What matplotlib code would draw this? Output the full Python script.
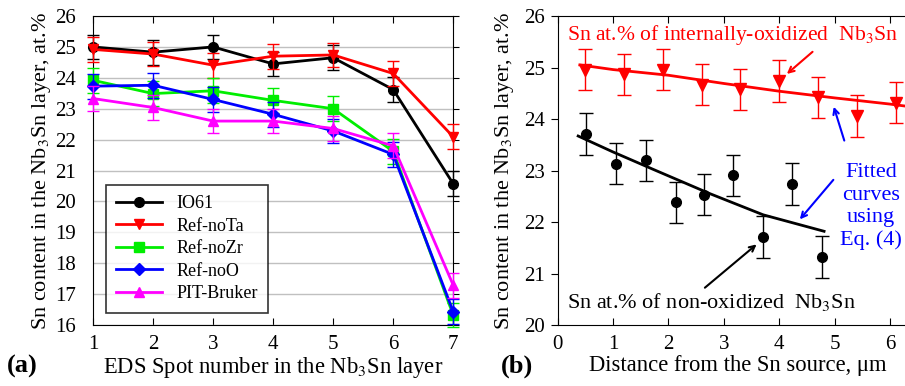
import matplotlib
matplotlib.use("Agg")
import matplotlib.pyplot as plt
import numpy as np

plt.rcParams['font.family'] = ['Liberation Serif', 'DejaVu Serif']
plt.rcParams['mathtext.fontset'] = 'stix'

# panel (a): Sn content vs EDS spot number
spots = [1, 2, 3, 4, 5, 6, 7]
io61 = [25.0, 24.83, 25.0, 24.45, 24.65, 23.62, 20.57]
ref_nota = [24.92, 24.77, 24.41, 24.70, 24.74, 24.14, 22.09]
ref_nozr = [23.92, 23.49, 23.58, 23.27, 23.0, 21.62, 16.32]
ref_noo = [23.73, 23.76, 23.30, 22.82, 22.28, 21.52, 16.43]
pit_bruker = [23.33, 23.04, 22.60, 22.60, 22.36, 21.80, 17.29]
err_a = 0.4

series_names = ['IO61', 'Ref-noTa', 'Ref-noZr', 'Ref-noO', 'PIT-Bruker']
series_colors = ['black', 'red', '#00ee00', 'blue', 'magenta']
series_markers = ['o', 'v', 's', 'D', '^']

# panel (b): Sn content vs distance from Sn source
dist_ox = [0.50, 1.20, 1.90, 2.60, 3.29, 4.00, 4.70, 5.41, 6.11]
sn_ox = [24.96, 24.87, 24.96, 24.67, 24.58, 24.74, 24.42, 24.06, 24.32]
dist_nonox = [0.52, 1.06, 1.59, 2.13, 2.65, 3.17, 3.71, 4.24, 4.78]
sn_nonox = [23.71, 23.13, 23.20, 22.38, 22.53, 22.91, 21.71, 22.74, 21.32]
err_b = 0.4

# fitted curves
fit_ox_x = [0.4, 1.0, 2.0, 3.0, 4.0, 5.0, 6.0, 6.5]
fit_ox_y = [25.05, 24.96, 24.85, 24.69, 24.54, 24.41, 24.29, 24.22]
fit_nonox_x = [0.37, 1.0, 1.73, 2.75, 3.71, 4.81]
fit_nonox_y = [23.67, 23.36, 23.02, 22.55, 22.14, 21.82]

fig = plt.figure(figsize=(9.05, 3.86), dpi=100)
ax1 = fig.add_axes([0.1028, 0.158, 0.398, 0.8005])
ax2 = fig.add_axes([0.6162, 0.158, 0.3978, 0.8005])

all_series = [io61, ref_nota, ref_nozr, ref_noo, pit_bruker]
for vals, name, col, mk in zip(all_series, series_names, series_colors, series_markers):
    ms = 6 if mk == 'D' else 7
    ax1.errorbar(spots, vals, yerr=err_a, fmt='none', ecolor=col,
                 elinewidth=1, capsize=4, capthick=1, clip_on=False, zorder=3)
    ax1.plot(spots, vals, color=col, marker=mk, ms=ms, lw=2,
             label=name, clip_on=False, zorder=3)

ax1.set_xlim(1, 7)
ax1.set_ylim(16, 26)
ax1.set_xticks(spots)
ax1.set_yticks(range(16, 27))
ax1.yaxis.grid(True, color='#c0c0c0', lw=1)
ax1.set_axisbelow(True)
ax1.tick_params(axis='x', which='both', direction='in', top=True, length=5,
                pad=7, labelsize=15)
ax1.tick_params(axis='y', which='both', direction='out', left=False,
                right=True, length=4, pad=8, labelsize=15)
ax1.set_xlabel('EDS Spot number in the Nb$_3$Sn layer', fontsize=16.3, labelpad=1)
ax1.set_ylabel('Sn content in the Nb$_3$Sn layer, at.%', fontsize=16, labelpad=2)
leg = ax1.legend(loc='lower left', bbox_to_anchor=(0.01, 0.01), fontsize=13,
                 handlelength=2.5, frameon=True, fancybox=False,
                 edgecolor='black', borderpad=0.6, labelspacing=0.3)
leg.get_frame().set_linewidth(1.2)

# panel (b)
ax2.plot(fit_ox_x, fit_ox_y, color='red', lw=2, zorder=2)
ax2.plot(fit_nonox_x, fit_nonox_y, color='black', lw=2, zorder=2)
ax2.errorbar(dist_ox, sn_ox, yerr=err_b, color='red', marker='v', ms=8,
             ls='none', elinewidth=1, capsize=5, capthick=1, zorder=3)
ax2.errorbar(dist_nonox, sn_nonox, yerr=err_b, color='black', marker='o', ms=7,
             ls='none', elinewidth=1, capsize=5, capthick=1, zorder=3)

ax2.set_xlim(0, 6.5)
ax2.set_ylim(20, 26)
ax2.set_xticks(range(0, 7))
ax2.set_yticks(range(20, 27))
ax2.tick_params(axis='x', direction='in', top=True, length=5, pad=7, labelsize=15)
ax2.tick_params(axis='y', direction='out', length=5, pad=4, labelsize=15)
ax2.set_xlabel('Distance from the Sn source, \u03bcm', fontsize=16.3, labelpad=1)
ax2.set_ylabel('Sn content in the Nb$_3$Sn layer, at.%', fontsize=16, labelpad=6)

ax2.text(0.17, 25.63, 'Sn at.% of internally-oxidized  Nb$_3$Sn', color='red',
         fontsize=15.6, va='center', ha='left')
ax2.annotate('', xy=(4.10, 24.84), xytext=(4.64, 25.34),
             arrowprops=dict(arrowstyle='->', color='red', lw=1.5))
ax2.text(5.66, 22.30, 'Fitted\ncurves\nusing\nEq. (4)', color='blue', fontsize=16,
         ha='center', va='center', linespacing=1.22)
ax2.annotate('', xy=(4.97, 24.29), xytext=(5.19, 23.53),
             arrowprops=dict(arrowstyle='->', color='blue', lw=1.5))
ax2.annotate('', xy=(4.34, 22.01), xytext=(5.01, 22.86),
             arrowprops=dict(arrowstyle='->', color='blue', lw=1.5))
ax2.text(0.17, 20.44, 'Sn at.% of non-oxidized  Nb$_3$Sn', color='black',
         fontsize=16, va='center', ha='left')
ax2.annotate('', xy=(3.63, 21.60), xytext=(2.62, 20.69),
             arrowprops=dict(arrowstyle='->', color='black', lw=1.5))

fig.text(0.008, 0.05, '(a)', fontsize=19, fontweight='bold', va='center')
fig.text(0.553, 0.05, '(b)', fontsize=19, fontweight='bold', va='center')

fig.savefig('out.png', dpi=100)
